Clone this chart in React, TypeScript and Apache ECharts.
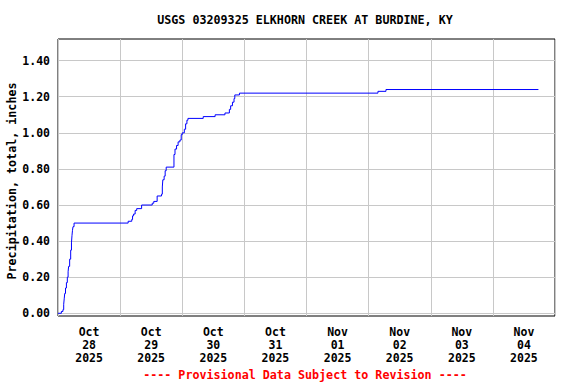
import React, { useEffect, useRef } from "react";
import * as echarts from "echarts";

const TITLE = "USGS 03209325 ELKHORN CREEK AT BURDINE, KY";
const Y_NAME = "Precipitation, total, inches";
const FOOTER = "---- Provisional Data Subject to Revision ----";

// x positions are hours since 2025-10-28 00:00
const dayLabels = [
  "Oct\n28\n2025",
  "Oct\n29\n2025",
  "Oct\n30\n2025",
  "Oct\n31\n2025",
  "Nov\n01\n2025",
  "Nov\n02\n2025",
  "Nov\n03\n2025",
  "Nov\n04\n2025",
];
const yTicks = [0, 0.2, 0.4, 0.6, 0.8, 1.0, 1.2, 1.4];

const hours = [
  0.0, 1.3, 1.9, 2.2, 2.4, 2.6, 2.9, 3.25, 3.6, 3.9, 4.1, 4.5, 4.9, 5.2, 5.4,
  5.6, 5.8, 6.2, 27.1, 28.5, 28.8, 29.2, 29.8, 30.4, 32.3, 36.4, 37.0, 38.3,
  40.0, 40.3, 40.5, 41.0, 41.4, 41.8, 44.8, 45.2, 45.8, 46.4, 47.1, 47.6, 48.0,
  48.8, 49.3, 49.8, 50.2, 56.1, 60.7, 64.5, 66.2, 66.7, 67.4, 68.0, 68.3, 70.1,
  123.6, 126.7, 185.6,
];
const precip = [
  0.0, 0.01, 0.02, 0.05, 0.08, 0.11, 0.14, 0.17, 0.2, 0.23, 0.26, 0.3, 0.35,
  0.39, 0.43, 0.46, 0.48, 0.5, 0.51, 0.52, 0.54, 0.55, 0.57, 0.58, 0.6, 0.61,
  0.62, 0.65, 0.66, 0.7, 0.74, 0.76, 0.79, 0.81, 0.88, 0.91, 0.93, 0.95, 0.96,
  0.99, 1.0, 1.02, 1.05, 1.07, 1.08, 1.09, 1.1, 1.11, 1.13, 1.15, 1.17, 1.19,
  1.21, 1.22, 1.23, 1.24, 1.24,
];

const FONT = "'DejaVu Sans Mono', 'Liberation Mono', monospace";

export default function App() {
  const ref = useRef<HTMLDivElement>(null);
  useEffect(() => {
    document.body.style.margin = "0";
    if (!ref.current) return;
    const chart = echarts.init(ref.current, undefined, { renderer: "svg" });
    const labelHours = dayLabels.map((_, i) => 12 + 24 * i);
    chart.setOption({
      animation: false,
      backgroundColor: "#ffffff",
      grid: {
        left: 58,
        right: 21,
        top: 39,
        bottom: 68,
        show: true,
        borderColor: "#000000",
        borderWidth: 1,
        backgroundColor: "#ffffff",
      },
      xAxis: {
        type: "value",
        min: 0,
        max: 192,
        interval: 24,
        axisLine: { show: false, onZero: false },
        axisTick: { show: false },
        splitLine: { show: true, lineStyle: { color: "#c8c8c8", width: 1 } },
        axisLabel: {
          customValues: labelHours,
          margin: 9,
          color: "#000000",
          fontFamily: FONT,
          fontWeight: "bold",
          fontSize: 11.5,
          lineHeight: 13,
          formatter: (v: number) => dayLabels[Math.round((v - 12) / 24)] ?? "",
        },
      },
      yAxis: {
        type: "value",
        min: -0.015,
        max: 1.52,
        axisLine: { show: false, onZero: false },
        axisTick: { show: false, customValues: yTicks },
        splitLine: { show: true, lineStyle: { color: "#c8c8c8", width: 1 } },
        axisLabel: {
          customValues: yTicks,
          margin: 8,
          color: "#000000",
          fontFamily: FONT,
          fontWeight: "bold",
          fontSize: 11.5,
          formatter: (v: number) => v.toFixed(2),
        },
      },
      series: [
        {
          type: "line",
          step: "end",
          showSymbol: false,
          data: hours.map((h, i) => [h, precip[i]]),
          lineStyle: { color: "#0000ff", width: 1 },
          itemStyle: { color: "#0000ff" },
          z: 5,
        },
      ],
      graphic: [
        {
          type: "text",
          x: 305,
          y: 20,
          style: {
            text: TITLE,
            fill: "#000000",
            font: `bold 11.7px ${FONT}`,
            textAlign: "center",
            textVerticalAlign: "middle",
          },
        },
        {
          type: "text",
          x: 12,
          y: 181,
          rotation: Math.PI / 2,
          style: {
            text: Y_NAME,
            fill: "#000000",
            font: `bold 11.7px ${FONT}`,
            textAlign: "center",
            textVerticalAlign: "middle",
          },
        },
        {
          type: "text",
          x: 305,
          y: 375,
          style: {
            text: FOOTER,
            fill: "#ff0000",
            font: `bold 11.7px ${FONT}`,
            textAlign: "center",
            textVerticalAlign: "middle",
          },
        },
      ],
    });
    return () => chart.dispose();
  }, []);
  return (
    <div
      ref={ref}
      style={{ position: "fixed", left: 0, top: 0, width: 576, height: 384 }}
    />
  );
}
